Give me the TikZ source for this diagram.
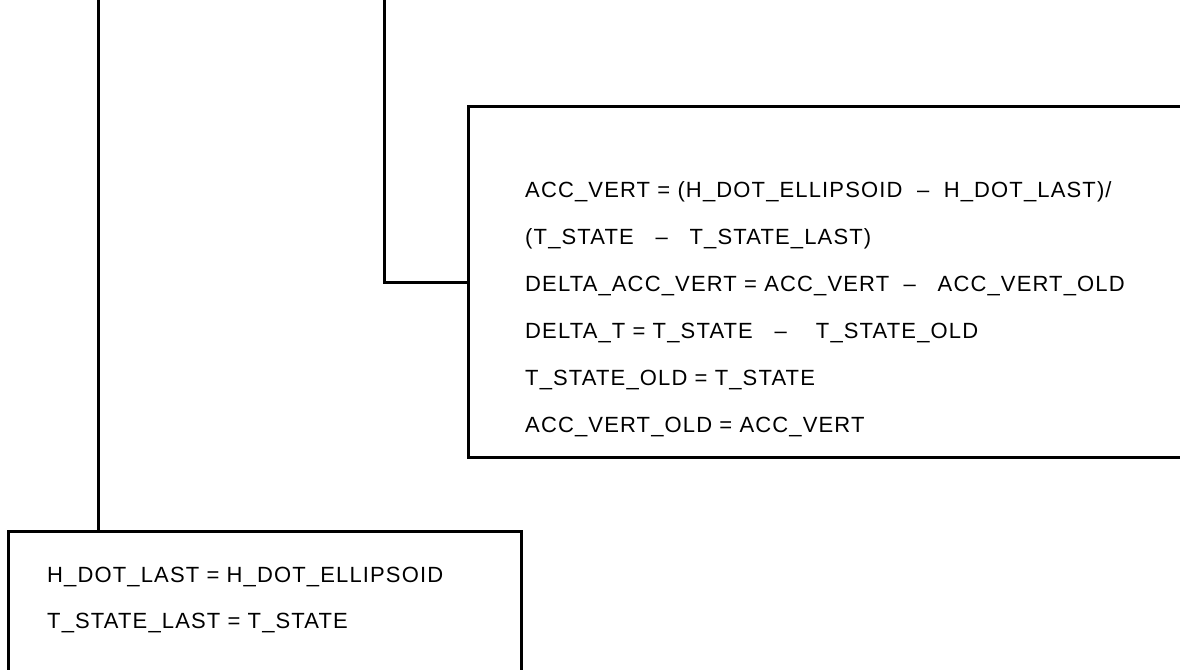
\documentclass[tikz,border=0pt]{standalone}
\usepackage{fontspec}
\newfontfamily\codefont[LetterSpace=5.2]{Liberation Sans}
\usetikzlibrary{positioning}

\begin{document}
\begin{tikzpicture}[
		x=1pt, y=-1pt,
		wire/.style={line width=3pt, line cap=rect},
		codebox/.style={draw, line width=3pt, rectangle, inner sep=0pt},
		codetext/.style={font=\codefont\fontsize{22}{47}\selectfont, align=left, inner sep=0pt, anchor=north west}
	]
	\useasboundingbox (0,0) rectangle (1180,669);
	\clip (0,0) rectangle (1180,669);
	% boxes
	\node[codebox, minimum width=760pt, minimum height=351pt, anchor=north west]
	     (calc) at (467,105) {};
	\node[codetext] (calctext) at (525,181)
	     {ACC\_VERT = (H\_DOT\_ELLIPSOID \ \textendash\ \ H\_DOT\_LAST)/\\
	      (T\_STATE \ \ \textendash\ \ \ T\_STATE\_LAST)\\
	      DELTA\_ACC\_VERT = ACC\_VERT \ \textendash\ \ \ ACC\_VERT\_OLD\\
	      DELTA\_T = T\_STATE \ \ \textendash\ \ \ \ T\_STATE\_OLD\\
	      T\_STATE\_OLD = T\_STATE\\
	      ACC\_VERT\_OLD = ACC\_VERT};
	\node[codebox, minimum width=513pt, minimum height=200pt, anchor=north west]
	     (last) at (7,530) {};
	\node[codetext] (lasttext) at (47,567)
	     {H\_DOT\_LAST = H\_DOT\_ELLIPSOID\\[-1.5pt]
	      T\_STATE\_LAST = T\_STATE};
	% connectors from above
	\coordinate (topa) at (98,-5);
	\coordinate (topb) at (384,-5);
	\draw[wire] (topa) -- (topa |- last.north);
	\draw[wire] (topb) |- (calc.west);
\end{tikzpicture}
\end{document}
